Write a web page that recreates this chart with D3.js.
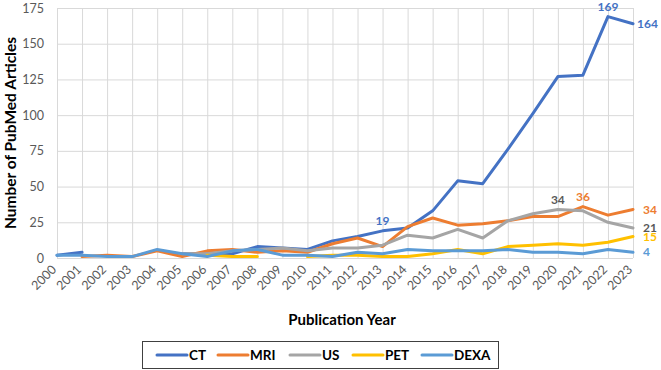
<!DOCTYPE html>
<html>
<head>
<meta charset="utf-8">
<script src="https://cdn.jsdelivr.net/npm/d3@7"></script>
<style>
  body { margin: 0; background: #fff; }
  svg { font-family: Lato, "Open Sans", sans-serif; }
</style>
</head>
<body>
<svg id="chart" width="661" height="370"></svg>
<script>
const years = d3.range(2000, 2024).map(String);
const yTicks = [0, 25, 50, 75, 100, 125, 150, 175];

// blank years in the source sheet are null (Excel draws a gap)
const ct   = [2, 4, null, null, null, 3, 3, 3, 8, 7, 6, 12, 15, 19, 21, 33, 54, 52, 76, 101, 127, 128, 169, 164];
const mri  = [null, 1, 2, 1, 5, 1, 5, 6, 4, 5, 4, 10, 14, 8, 22, 28, 23, 24, 26, 29, 29, 36, 30, 34];
const us   = [null, null, null, null, null, 3, 3, 5, 6, 7, 5, 7, 7, 9, 16, 14, 20, 14, 26, 31, 34, 33, 25, 21];
const pet  = [null, null, null, null, null, null, 2, 1, 1, null, 1, 2, 2, 1, 1, 3, 6, 3, 8, 9, 10, 9, 11, 15];
const dexa = [2, 2, 1, 1, 6, 3, 1, 5, 6, 2, 2, 1, 4, 3, 6, 5, 5, 5, 6, 4, 4, 3, 6, 4];

const seriesNames = ["CT", "MRI", "US", "PET", "DEXA"];
const seriesValues = [ct, mri, us, pet, dexa];

// which points carry a data label
const labelled = [
  { name: "CT", year: "2013", at: "above" },
  { name: "CT", year: "2022", at: "above" },
  { name: "CT", year: "2023", at: "right" },
  { name: "US", year: "2020", at: "above" },
  { name: "MRI", year: "2021", at: "above" },
  { name: "MRI", year: "2023", at: "right" },
  { name: "US", year: "2023", at: "right" },
  { name: "PET", year: "2023", at: "right" },
  { name: "DEXA", year: "2023", at: "right" }
];

const colors = { CT: "#4472C4", MRI: "#ED7D31", US: "#A5A5A5", PET: "#FFC000", DEXA: "#5B9BD5" };
const labelColors = { CT: "#4472C4", MRI: "#ED7D31", US: "#595959", PET: "#FFC000", DEXA: "#5B9BD5" };

const svg = d3.select("#chart");
const plot = { left: 57, right: 633, top: 8, bottom: 258 };

const x = d3.scalePoint().domain(years).range([plot.left, plot.right]);
const y = d3.scaleLinear().domain([0, 175]).range([plot.bottom, plot.top]);

// --- grid ---
svg.append("g")
  .attr("transform", `translate(0, ${plot.bottom})`)
  .call(d3.axisBottom(x).tickSize(-(plot.bottom - plot.top)).tickFormat(""))
  .call(g => g.select(".domain").remove())
  .selectAll("line").attr("stroke", "#d9d9d9");

svg.append("g")
  .attr("transform", `translate(${plot.left}, 0)`)
  .call(d3.axisLeft(y).tickValues(yTicks).tickSize(-(plot.right - plot.left)).tickFormat(""))
  .call(g => g.select(".domain").remove())
  .selectAll("line").attr("stroke", "#d9d9d9");

// --- axis labels ---
svg.append("g")
  .attr("transform", `translate(${plot.left}, 0)`)
  .call(d3.axisLeft(y).tickValues(yTicks).tickSize(0).tickPadding(13))
  .call(g => g.select(".domain").remove())
  .selectAll("text")
  .attr("fill", "#595959")
  .style("font-size", "12.5px")
  .style("font-family", "Lato, sans-serif");

svg.append("g")
  .attr("transform", `translate(0, ${plot.bottom})`)
  .call(d3.axisBottom(x).tickSize(0))
  .call(g => g.select(".domain").remove())
  .selectAll("text")
  .attr("fill", "#595959")
  .style("font-size", "12.5px")
  .style("font-family", "Lato, sans-serif")
  .style("text-anchor", "end")
  .attr("x", -9)
  .attr("y", 4)
  .attr("dy", "0.35em")
  .attr("transform", "rotate(-45)");

// --- lines ---
const line = d3.line()
  .defined(d => d.value != null)
  .x(d => x(d.year))
  .y(d => y(d.value));

const series = seriesNames.map((name, i) => ({
  name,
  points: years.map((year, j) => ({ year, value: seriesValues[i][j] }))
}));

svg.append("g")
  .selectAll("path")
  .data(series)
  .join("path")
  .attr("d", d => line(d.points))
  .attr("fill", "none")
  .attr("stroke", d => colors[d.name])
  .attr("stroke-width", 3)
  .attr("stroke-linejoin", "round")
  .attr("stroke-linecap", "round");

// --- data labels ---
const lab = svg.append("g")
  .style("font-size", "12px")
  .style("font-weight", "bold");

labelled.forEach(l => {
  const v = seriesValues[seriesNames.indexOf(l.name)][years.indexOf(l.year)];
  const t = lab.append("text")
    .attr("fill", labelColors[l.name])
    .text(v);
  if (l.at === "above") {
    t.attr("x", x(l.year)).attr("y", y(v) - 10).attr("dy", "0.35em").attr("text-anchor", "middle");
  } else {
    const w = t.node().getComputedTextLength();
    t.attr("x", Math.min(x(l.year) + 10, 658 - w)).attr("y", y(v)).attr("dy", "0.35em");
  }
});

// --- axis titles ---
svg.append("text")
  .attr("transform", `translate(11, ${(plot.top + plot.bottom) / 2}) rotate(-90)`)
  .attr("text-anchor", "middle")
  .attr("dy", "0.35em")
  .style("font-size", "15.5px")
  .style("font-weight", "bold")
  .attr("fill", "#000")
  .text("Number of PubMed Articles");

svg.append("text")
  .attr("x", 342)
  .attr("y", 320)
  .attr("text-anchor", "middle")
  .attr("dy", "0.35em")
  .style("font-size", "15px")
  .style("font-weight", "bold")
  .attr("fill", "#000")
  .text("Publication Year");

// --- legend ---
const legend = svg.append("g");
legend.append("rect")
  .attr("x", 142.5).attr("y", 341.5)
  .attr("width", 356).attr("height", 27)
  .attr("fill", "#fff").attr("stroke", "#404040");

const legendX = [157, 218, 290, 353, 422];
seriesNames.forEach((name, i) => {
  const g = legend.append("g").attr("transform", `translate(${legendX[i]}, 355)`);
  g.append("line").attr("x1", 0).attr("x2", 30)
    .attr("stroke", colors[name]).attr("stroke-width", 3).attr("stroke-linecap", "round");
  g.append("text").attr("x", 32).attr("dy", "0.35em")
    .style("font-size", "13.5px").style("font-weight", "bold")
    .attr("fill", "#000").text(name);
});
</script>
</body>
</html>
